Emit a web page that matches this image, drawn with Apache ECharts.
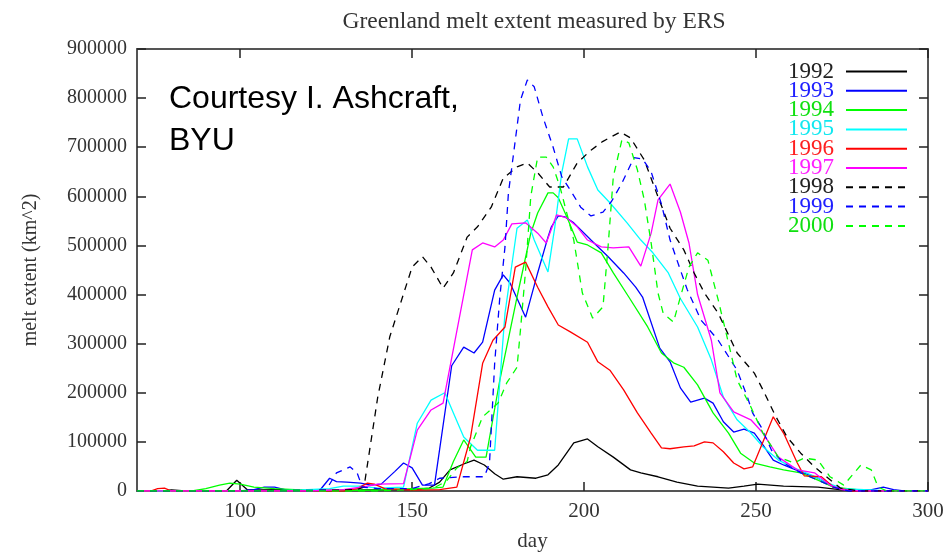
<!DOCTYPE html>
<html>
<head>
<meta charset="utf-8">
<script src="https://cdn.jsdelivr.net/npm/echarts@6/dist/echarts.min.js"></script>
<style>html,body{margin:0;padding:0;background:#fff;}#c{width:945px;height:554px;}</style>
</head>
<body>
<div id="c"></div>
<script>
// values in thousands of km^2, [day, value]
const s1992 = [[70,0],[78,0],[80,2],[84,0],[96,0],[99,22],[102,3],[106,2],[112,3],[120,1],[135,2],[145,3],[150,3],[155,6],[158,18],[161,43],[165,55],[168,63],[171,53],[174,35],[176.5,24],[180.5,29],[186,26],[189.5,33],[192.5,53],[197,98],[201,106],[204,90],[208.5,69],[213.5,43],[216.5,37],[221.5,29],[227,18],[233,10],[242,6],[246.5,10],[250.5,14],[258,10],[268,8],[273,4],[278,0],[300,0]];
const s1993 = [[70,0],[100,0],[104,3],[107,8],[110,8],[113,3],[118,0],[123,0],[126,26],[128,19],[131,18],[135,16],[138,12],[141,14],[145,40],[147.5,57],[150,47],[153,12],[156.5,12],[161.5,255],[165,293],[168,281],[170.5,303],[174,409],[176.5,440],[178.5,423],[183,354],[186.5,444],[189.5,517],[190.5,538],[192.5,560],[194.5,558],[197,546],[202,511],[207,477],[211.5,444],[215,415],[217,395],[222,291],[225,263],[228,210],[231,181],[235,189],[237.5,179],[240.5,141],[243.5,120],[246.5,126],[249.5,118],[252,94],[255,63],[258,53],[263,39],[268,26],[272.5,8],[276,2],[283,2],[287,8],[290,3],[293,0],[300,0]];
const s1994 = [[70,0],[86,0],[90,5],[94,12],[97,16],[100,14],[104,8],[110,5],[116,3],[122,0],[140,2],[150,5],[156,6],[159,8],[162,60],[165,104],[168.5,69],[171.5,69],[175.5,226],[180.5,395],[184.5,525],[186.5,566],[189.5,607],[191,607],[192.5,597],[195,558],[198,507],[201,501],[205,485],[208.5,444],[213,395],[218.5,334],[222.5,281],[226,261],[229,252],[233,216],[237.5,159],[242,118],[245.5,77],[249.5,57],[254,49],[258,43],[263,37],[268,22],[272.5,8],[280,2],[285,0],[300,0]];
const s1995 = [[70,0],[110,0],[118,2],[126,5],[130,10],[135,10],[140,6],[147.5,8],[151.5,138],[155.5,185],[159.5,200],[162,159],[165,110],[169,83],[174,83],[177,362],[180.5,535],[183.5,552],[185.5,511],[189.5,446],[191.5,538],[193.5,648],[195.5,717],[198,717],[201,660],[204,613],[207.5,587],[212.5,546],[216.5,511],[220,485],[224.5,444],[228,392],[233,334],[237,267],[240.5,191],[244.5,145],[248.5,118],[252,90],[256.5,63],[261,47],[266,33],[271,16],[275,5],[283,2],[288,0],[300,0]];
const s1996 = [[70,0],[74,0],[76,5],[78,6],[80,0],[130,0],[134,5],[137,16],[139,14],[142,5],[150,2],[158,3],[163,8],[167,110],[170.5,260],[173.5,307],[177,334],[180,456],[183,466],[186.5,415],[189.5,375],[192.5,338],[196,324],[201,303],[204,263],[207.5,246],[211.5,206],[215.5,159],[219.5,118],[222.5,88],[225,86],[229,90],[232,92],[235,100],[237.5,98],[240.5,80],[243.5,57],[246.5,45],[249,49],[252,100],[255,151],[258,118],[262,57],[264,31],[269,29],[272.5,8],[278,0],[300,0]];
const s1997 = [[70,0],[120,0],[130,3],[137,10],[140,14],[147.5,15],[151.5,124],[155.5,165],[159,179],[167.5,491],[170.5,505],[174,497],[176.5,511],[179,544],[183,546],[186.5,525],[189,505],[192,562],[195,556],[198,538],[201,511],[205,497],[208.5,495],[213,497],[216.5,458],[219.5,525],[221.5,593],[225,625],[228,568],[230.5,505],[233,400],[237,307],[239.5,200],[243.5,161],[248.5,145],[252,118],[256.5,69],[262,43],[267,37],[271.5,12],[275,3],[280,0],[300,0]];
const s1998 = [[70,0],[100,0],[130,2],[134,3],[136,8],[140,191],[143.5,314],[150,456],[153,477],[155.5,456],[159,413],[162,444],[166,517],[169,538],[173,578],[176.5,637],[180.5,660],[183.5,668],[186.5,648],[190,619],[194,619],[198,668],[202,694],[205.5,712],[210.5,731],[213.5,719],[217.5,674],[221.5,599],[225,535],[229,491],[232,444],[235,403],[239,362],[244.5,281],[249.5,240],[252,206],[255.5,155],[259,110],[263,77],[267,49],[271,26],[274.5,6],[280,0],[300,0]];
const s1999 = [[70,0],[120,0],[125,2],[128,37],[132,49],[134,37],[135.5,8],[140,5],[150,5],[155,15],[158,26],[165,29],[171,29],[172.5,57],[174,260],[175.5,395],[177,497],[178,607],[179,660],[181.5,796],[183.5,837],[185.5,823],[188,762],[191,700],[193.5,640],[196.5,607],[199,578],[202,560],[205.5,568],[208,590],[211,627],[214.5,679],[217,676],[219.5,650],[222.5,584],[225,511],[228,450],[230,410],[234,348],[239,307],[244.5,246],[247.5,191],[249,159],[251.5,130],[254.5,83],[258,57],[263,37],[268,22],[272.5,8],[277,0],[300,0]];
const s2000 = [[70,0],[140,0],[150,3],[156,5],[160,20],[163,47],[166,60],[167,90],[170.5,151],[175,179],[177.5,220],[180.5,252],[181.5,328],[183,450],[184.5,600],[186.5,680],[189,680],[191,660],[193,619],[197,511],[199.5,403],[202.5,352],[205.5,375],[207,500],[208.5,640],[211,715],[213,709],[215.5,654],[217.5,593],[219.5,505],[221.5,403],[223,362],[226,344],[228,395],[230.5,456],[233,485],[236,470],[239,389],[242,301],[244.5,226],[248.5,171],[252,118],[256.5,69],[261,57],[264,67],[268,63],[271.5,29],[275.5,12],[280.5,53],[283.5,43],[285.5,8],[288,0],[300,0]];

const years = ['1992','1993','1994','1995','1996','1997','1998','1999','2000'];
const seriesData = [s1992,s1993,s1994,s1995,s1996,s1997,s1998,s1999,s2000];
const colors = ['#000000','#0000ff','#00ff00','#00ffff','#ff0000','#ff00ff','#000000','#0000ff','#00ff00'];
const textColors = ['#222222','#2020ff','#10e010','#10e8f0','#ff2020','#ff20ff','#222222','#2020ff','#10e010'];
const dashed = [false,false,false,false,false,false,true,true,true];
const xTicks = [100,150,200,250,300];
const titleText = 'Greenland melt extent measured by ERS';
const xName = 'day';
const yName = 'melt extent (km^2)';
const note = 'Courtesy I. Ashcraft,\nBYU';

const serif = '"Liberation Serif", "DejaVu Serif", serif';
const frame = '#555555';

const chart = echarts.init(document.getElementById('c'), null, {renderer:'canvas'});
const axisCommon = {
  axisLine:{show:true, onZero:false, lineStyle:{color:frame, width:2}},
  splitLine:{show:false}
};
chart.setOption({
  animation:false,
  backgroundColor:'#ffffff',
  grid:{left:137, right:17, top:49, bottom:63, containLabel:false, outerBoundsMode:'none'},
  graphic:[
    {type:'text', x:534, y:10, style:{text:titleText, textAlign:'center', font:'23.5px ' + serif, fill:'#333'}},
    {type:'text', x:169, y:78, style:{text:note, font:'32px "Liberation Sans", Arial, sans-serif', fill:'#000', lineHeight:42}}
  ],
  xAxis:[
    Object.assign({type:'value', min:70, max:300, position:'bottom',
      axisTick:{show:true, inside:true, length:9, customValues:xTicks, lineStyle:{color:'#222', width:1.5}},
      axisLabel:{customValues:xTicks, fontFamily:serif, fontSize:21, color:'#333', margin:10},
      name:xName, nameLocation:'middle', nameGap:40, nameTextStyle:{fontFamily:serif, fontSize:21, color:'#333'}
    }, axisCommon),
    Object.assign({type:'value', min:70, max:300, position:'top',
      axisTick:{show:true, inside:true, length:9, customValues:xTicks, lineStyle:{color:'#222', width:1.5}},
      axisLabel:{show:false}
    }, axisCommon)
  ],
  yAxis:[
    Object.assign({type:'value', min:0, max:900000, interval:100000, position:'left',
      axisTick:{show:true, inside:true, length:9, lineStyle:{color:'#222', width:1.5}},
      axisLabel:{fontFamily:serif, fontSize:20, color:'#333', margin:10, formatter:(v)=>String(v)},
      name:yName, nameLocation:'middle', nameGap:96, nameTextStyle:{fontFamily:serif, fontSize:20, color:'#333'}
    }, axisCommon),
    Object.assign({type:'value', min:0, max:900000, interval:100000, position:'right',
      axisTick:{show:true, inside:true, length:9, lineStyle:{color:'#222', width:1.5}},
      axisLabel:{show:false}
    }, axisCommon)
  ],
  legend:{
    orient:'vertical', right:37, top:60, align:'right', padding:0,
    itemWidth:61, itemHeight:19, itemGap:-3.7,
    itemStyle:{opacity:0, borderWidth:0},
    textStyle:{fontFamily:serif, fontSize:23, padding:[0,7,0,0]},
    data: years.map((y,i)=>({name:y, textStyle:{color:textColors[i]}})),
    selectedMode:false
  },
  series: years.map((y,i)=>({
    name:y, type:'line', xAxisIndex:0, yAxisIndex:0,
    symbol:'none', showSymbol:false,
    color:colors[i],
    lineStyle:{color:colors[i], width:1.3, type: dashed[i] ? [7,6] : 'solid'},
    data: seriesData[i].map(p=>[p[0], p[1]*1000])
  }))
});
</script>
</body>
</html>
